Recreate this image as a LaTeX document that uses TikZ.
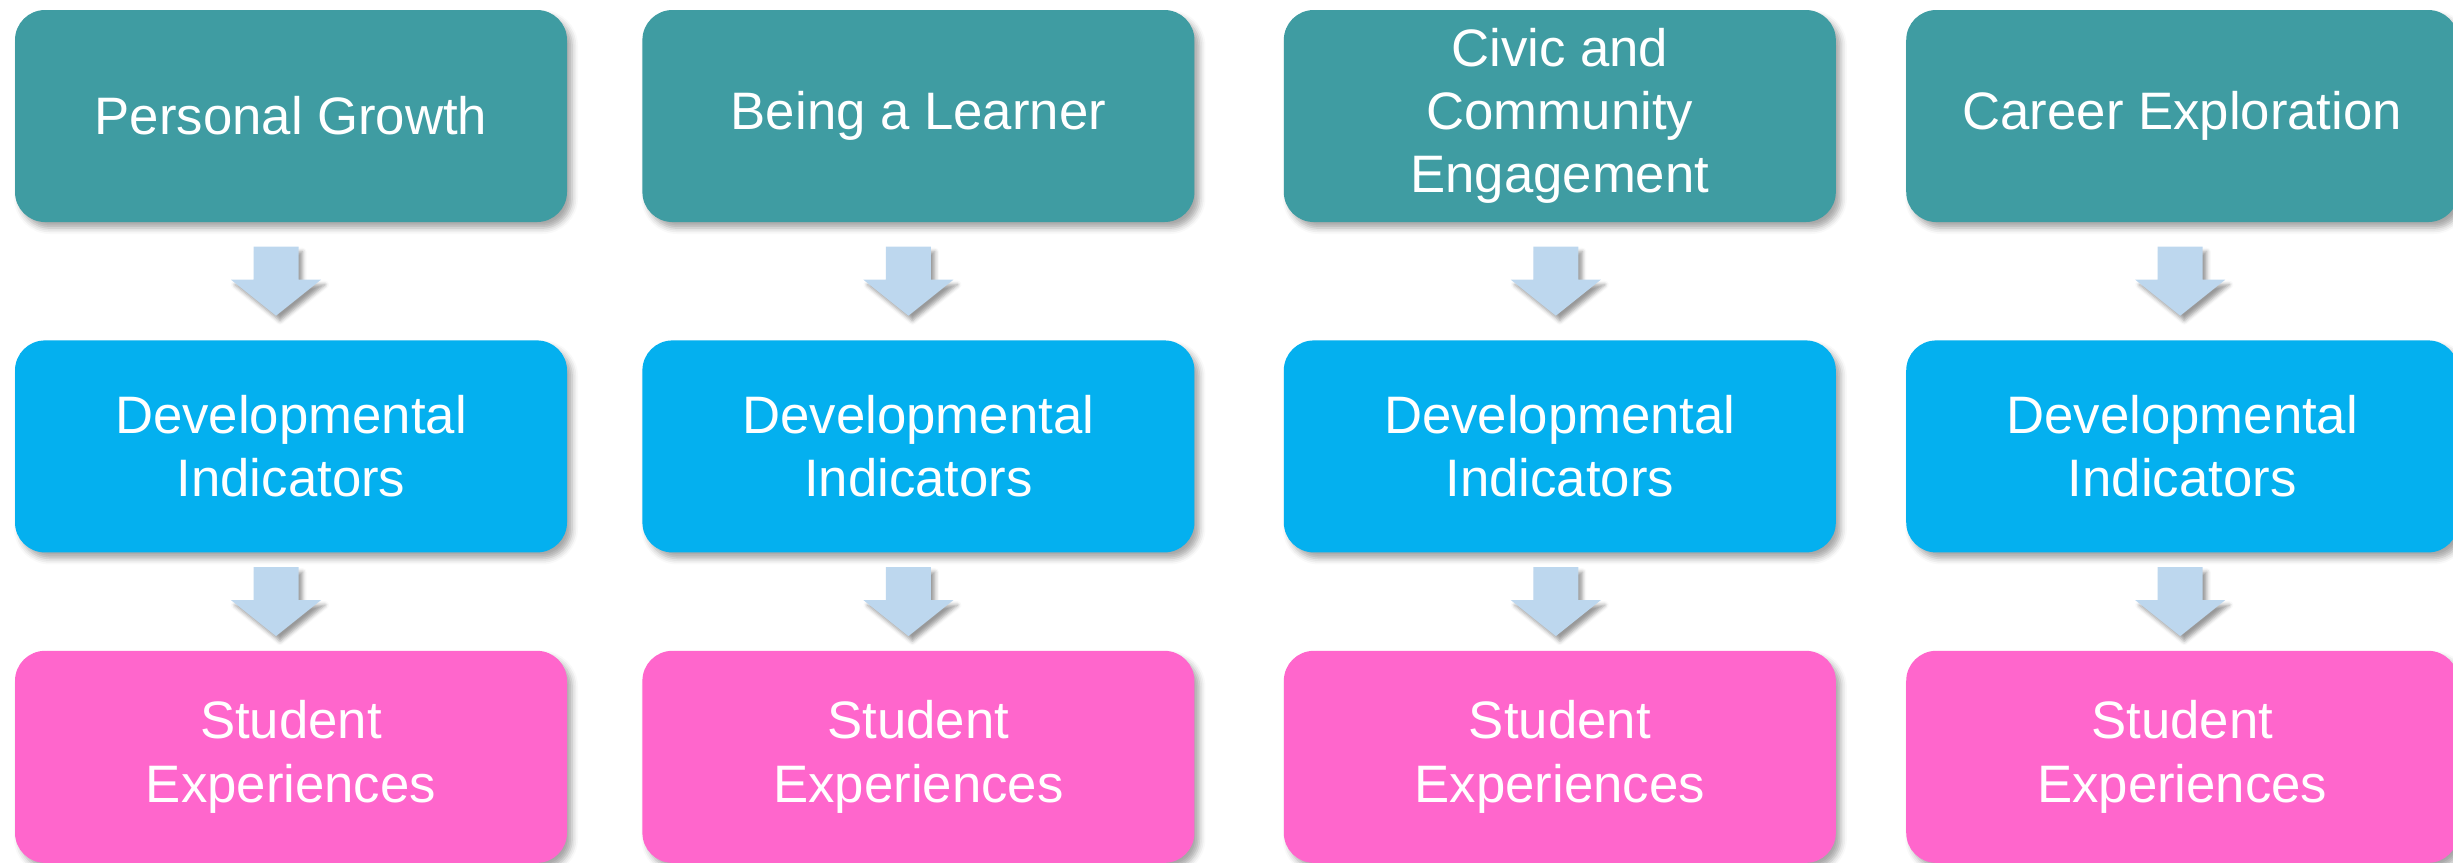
\documentclass[tikz,border=0pt]{standalone}
\usepackage{fontspec}
\setmainfont{Liberation Sans}
\usepackage{xcolor}
\usetikzlibrary{positioning,calc,shadows.blur}

\definecolor{areacolor}{RGB}{63,156,162}
\definecolor{indcolor}{RGB}{4,176,239}
\definecolor{expcolor}{RGB}{255,102,204}
\definecolor{arrowcolor}{RGB}{189,215,238}

\begin{document}
\begin{tikzpicture}[node distance=1.17cm, box/.style={rounded corners=0.3cm,minimum width=5.52cm,minimum height=2.12cm,align=center,text=white,font=\fontsize{15}{18}\selectfont,blur shadow={shadow xshift=0.05cm,shadow yshift=-0.06cm,shadow blur radius=0.06cm,shadow opacity=35}}, area node/.style={box,fill=areacolor}, ind node/.style={box,fill=indcolor}, exp node/.style={box,fill=expcolor}, blockarrow/.pic={\fill[arrowcolor,blur shadow={shadow xshift=0.04cm,shadow yshift=-0.05cm,shadow blur radius=0.04cm,shadow opacity=40}] (-0.225,0.345) -- (0.225,0.345) -- (0.225,0.015) -- (0.45,0.015) -- (0,-0.345) -- (-0.45,0.015) -- (-0.225,0.015) -- cycle;}]

            \useasboundingbox (0,0) rectangle (24.53,-8.62);

            \node[area node] (g1) at (2.91,-1.16) {Personal Growth};
            \node[area node] (g2) [right=0.74cm of g1] {Being a Learner};
            \node[area node] (g3) [right=0.88cm of g2] {Civic and\\Community\\Engagement};
            \node[area node] (g4) [right=0.69cm of g3] {Career Exploration};

            \node[ind node] (d1) [below=of g1] {Developmental\\Indicators};
            \node[ind node] (d2) [below=of g2] {Developmental\\Indicators};
            \node[ind node] (d3) [below=of g3] {Developmental\\Indicators};
            \node[ind node] (d4) [below=of g4] {Developmental\\Indicators};

            \node[exp node] (s1) [below=0.97cm of d1] {Student\\Experiences};
            \node[exp node] (s2) [below=0.97cm of d2] {Student\\Experiences};
            \node[exp node] (s3) [below=0.97cm of d3] {Student\\Experiences};
            \node[exp node] (s4) [below=0.97cm of d4] {Student\\Experiences};

            \pic at ($(g1.south)!0.5!(d1.north)+(-0.15,0)$) {blockarrow};
            \pic at ($(g2.south)!0.5!(d2.north)+(-0.10,0)$) {blockarrow};
            \pic at ($(g3.south)!0.5!(d3.north)+(-0.04,0)$) {blockarrow};
            \pic at ($(g4.south)!0.5!(d4.north)+(-0.02,0)$) {blockarrow};

            \pic at ($(d1.south)!0.5!(s1.north)+(-0.15,0)$) {blockarrow};
            \pic at ($(d2.south)!0.5!(s2.north)+(-0.10,0)$) {blockarrow};
            \pic at ($(d3.south)!0.5!(s3.north)+(-0.04,0)$) {blockarrow};
            \pic at ($(d4.south)!0.5!(s4.north)+(-0.02,0)$) {blockarrow};

        \end{tikzpicture}
\end{document}
